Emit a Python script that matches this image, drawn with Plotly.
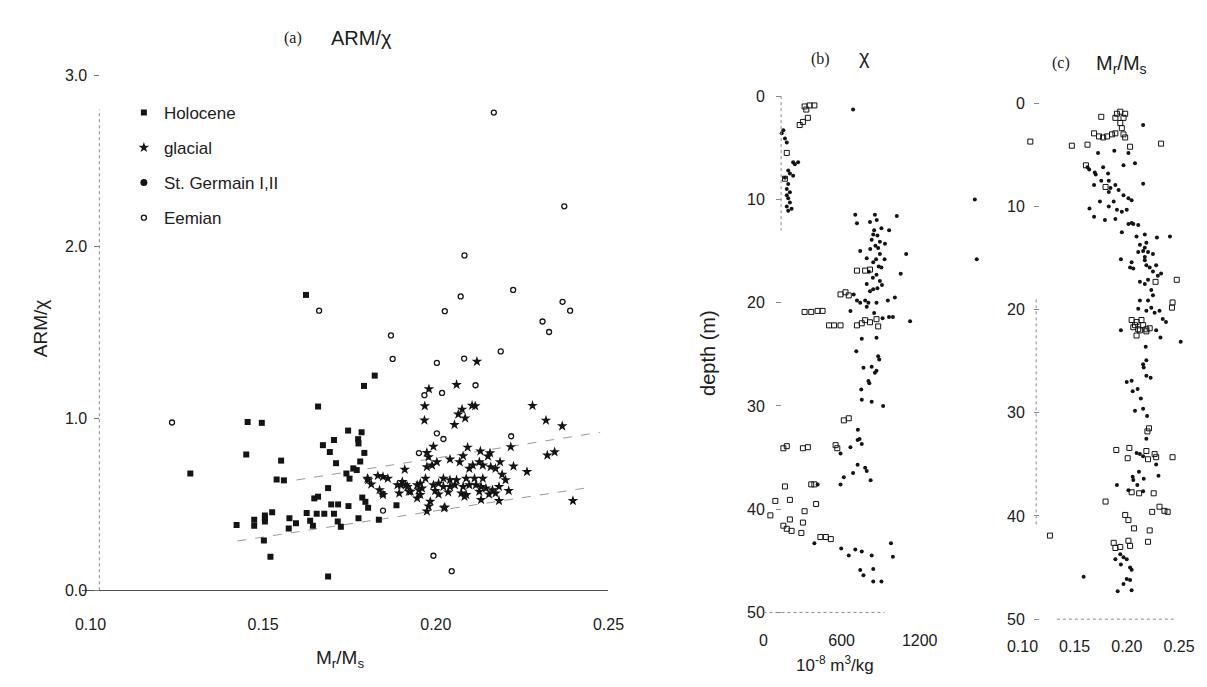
import plotly.graph_objects as go

W, H = 1207, 687

# ---------------- data: panel (a)  (Mr/Ms, ARM/chi) ----------------
holocene = [(0.1792,1.19),(0.1659,1.07),(0.1455,0.98),(0.1496,0.975),(0.1451,0.79),(0.1552,0.755),
            (0.1289,0.68),(0.1539,0.645),(0.1560,0.64),(0.1746,0.93),(0.1785,0.92),(0.1775,0.88),
            (0.1776,0.855),(0.1705,0.875),(0.1673,0.845),(0.1693,0.805),(0.1793,0.80),(0.1781,0.75),
            (0.1711,0.74),(0.1761,0.71),(0.1771,0.70),(0.1741,0.68),(0.1750,0.65),(0.1688,0.595),
            (0.1648,0.535),(0.1659,0.545),(0.1697,0.50),(0.1717,0.50),(0.1747,0.49),(0.1787,0.54),
            (0.1796,0.515),(0.1526,0.455),(0.1505,0.435),(0.1505,0.42),(0.1505,0.40),(0.1474,0.41),
            (0.1474,0.375),(0.1423,0.38),(0.1576,0.42),(0.1574,0.36),(0.1595,0.39),(0.1626,0.45),
            (0.1655,0.445),(0.1677,0.445),(0.1705,0.445),(0.1636,0.405),(0.1644,0.375),(0.1716,0.40),
            (0.1725,0.37),(0.1776,0.42),(0.1502,0.29),(0.1521,0.195),(0.1688,0.08),(0.1624,1.72),
            (0.1823,1.25),(0.1846,0.56),(0.1886,0.495),(0.1835,0.41),(0.1804,0.48)]

glacial = [(0.2119,1.332),(0.1980,1.172),(0.2060,1.197),(0.1968,1.073),(0.1967,0.990),(0.2076,1.053),
           (0.2065,1.025),(0.2085,1.002),(0.2054,0.964),(0.2105,1.076),(0.2114,1.073),(0.2280,1.075),
           (0.2319,0.989),(0.2366,0.956),(0.1993,0.837),(0.1974,0.801),(0.1979,0.776),(0.2092,0.832),
           (0.2129,0.810),(0.2157,0.799),(0.2151,0.780),(0.2217,0.835),(0.2323,0.786),(0.2344,0.805),
           (0.2041,0.763),(0.2079,0.782),(0.2069,0.747),(0.2003,0.747),(0.1974,0.718),(0.1989,0.728),
           (0.2126,0.747),(0.2136,0.728),(0.2107,0.728),(0.2097,0.709),(0.2186,0.747),(0.2173,0.709),
           (0.2159,0.718),(0.2225,0.722),(0.2264,0.690),(0.1910,0.703),(0.1832,0.667),(0.1847,0.661),
           (0.1861,0.651),(0.1804,0.642),(0.1813,0.617),(0.2192,0.674),(0.2202,0.642),(0.1970,0.651),
           (0.2022,0.651),(0.2041,0.642),(0.2060,0.642),(0.2088,0.651),(0.2112,0.651),(0.2136,0.651),
           (0.1899,0.613),(0.1918,0.603),(0.1946,0.613),(0.1960,0.594),(0.1993,0.613),(0.2008,0.622),
           (0.2022,0.603),(0.2041,0.603),(0.2055,0.613),(0.2079,0.603),(0.2097,0.613),(0.2116,0.613),
           (0.2131,0.603),(0.2145,0.594),(0.2164,0.584),(0.1894,0.565),(0.1922,0.575),(0.1955,0.556),
           (0.1998,0.579),(0.2036,0.571),(0.2074,0.565),(0.2088,0.556),(0.2126,0.575),(0.2154,0.559),
           (0.2173,0.565),(0.2183,0.603),(0.2211,0.579),(0.1946,0.536),(0.2008,0.559),(0.2083,0.546),
           (0.2131,0.527),(0.2183,0.521),(0.1984,0.517),(0.1979,0.489),(0.1974,0.460),(0.2026,0.483),
           (0.1837,0.584),(0.1847,0.556),(0.1889,0.613),(0.1903,0.632),(0.1913,0.613),(0.1927,0.575),
           (0.1951,0.584),(0.1955,0.622),(0.2397,0.521),(0.2024,0.479),(0.1802,0.651)]

st_germain = []   # legend entry only: no points distinguishable in panel (a)

eemian = [(0.1662,1.628),(0.2168,2.782),(0.2372,2.236),(0.2083,1.950),(0.2224,1.749),(0.2072,1.711),
          (0.2367,1.680),(0.2389,1.628),(0.2026,1.625),(0.2309,1.565),(0.2328,1.504),(0.1870,1.484),
          (0.1236,0.977),(0.1875,1.347),(0.2003,1.324),(0.2082,1.349),(0.2188,1.391),(0.2115,1.194),
          (0.2018,1.149),(0.1967,1.136),(0.2003,0.914),(0.2022,0.881),(0.2218,0.897),(0.1951,0.799),
          (0.1847,0.464),(0.1993,0.201),(0.2046,0.111)]

upper_line = [(0.1596,0.642),(0.2476,0.920)]
lower_line = [(0.1425,0.287),(0.2429,0.594)]

a_xticks = [0.10, 0.15, 0.20, 0.25]
a_xlabels = ["0.10", "0.15", "0.20", "0.25"]
a_yticks = [0, 1, 2, 3]
a_ylabels = ["0.0", "1.0", "2.0", "3.0"]

# ---------------- data: panel (b)  (chi, depth) ----------------
chi_dots = [(688,1.3),(153,3.3),(140,3.6),(165,4.1),(179,4.5),(228,6.4),(266,6.4),(241,6.6),
            (190,7.2),(203,7.5),(165,7.9),(228,7.7),(190,8.5),(179,9.0),(203,9.3),(179,9.6),
            (190,9.9),(203,10.3),(179,10.7),(190,11.1),(216,10.9),
            (705,11.5),(718,12.3),(856,11.5),(906,12.8),(818,12.2),(843,13.4),(894,14.1),(831,13.9),
            (881,14.7),(793,15.7),(743,15.0),(894,15.3),(843,16.1),(906,16.6),(868,17.3),(894,17.9),
            (793,18.2),(818,18.9),(843,18.7),(693,19.2),(718,19.8),(743,20.0),(781,19.8),(806,20.0),
            (793,20.4),(868,20.0),(668,20.8),(1024,11.6),(1096,15.3),(1054,17.2),(1009,19.5),
            (1126,21.8),(994,21.4),(964,21.4),(933,14.3),(1623,10.0),(1638,15.8),
            (870,12.0),(850,13.0),(875,13.5),(860,14.5),(820,14.8),(865,15.8),(885,16.5),(840,17.6),
            (810,17.0),(875,18.6),(965,13.0),(930,15.8),(955,19.8),(910,18.3),(850,21.0),(915,21.5),
            (755,23.5),(868,23.4),(713,24.7),(881,25.2),(889,25.5),(768,26.3),(831,26.2),(856,26.8),
            (868,26.6),(806,27.6),(813,27.8),(751,28.4),(755,29.4),(831,29.6),(919,30.0),
            (725,32.3),(723,33.3),(738,33.2),(755,33.7),(668,34.0),(592,34.6),(723,35.7),(781,36.0),
            (793,36.3),(823,37.2),(688,36.5),(617,36.9),(592,37.6),(416,37.6),
            (391,43.3),(597,43.8),(655,44.5),(705,43.9),(755,44.1),(831,44.5),(743,45.9),(768,46.4),
            (843,45.8),(843,47.0),(906,47.0),(979,43.3),(994,44.6)]

chi_open = [(316,1.0),(354,0.9),(391,0.9),(329,1.3),(303,2.5),(341,2.1),(278,2.8),(179,5.5),(165,8.0),
            (718,16.9),(781,16.9),(818,16.8),(592,19.2),(630,19.0),(655,19.3),
            (316,20.9),(367,20.9),(416,20.8),(454,20.8),
            (504,22.2),(542,22.2),(592,22.2),(718,22.2),(755,22.0),(781,21.7),(818,21.9),(868,21.6),(881,22.3),
            (617,31.4),(655,31.2),(554,33.8),(567,34.1),(153,34.1),(179,33.9),(303,34.1),(341,34.0),
            (165,37.8),(367,37.6),(391,37.6),(91,39.2),(203,39.1),(53,40.6),(203,41.0),(316,40.2),
            (404,39.5),(153,41.6),(179,41.9),(216,42.1),(303,41.3),(291,42.3),(437,42.7),(479,42.7),
            (517,42.9)]

b_xticks = [0, 600, 1200]
depth_ticks = [0, 10, 20, 30, 40, 50]

# ---------------- data: panel (c)  (Mr/Ms, depth) ----------------
mr_dots = [(0.2156,2.1),(0.1724,4.8),(0.1880,4.6),(0.2015,4.8),(0.1968,6.0),(0.2078,5.8),
           (0.1623,6.2),(0.1639,6.4),(0.1693,6.7),(0.1702,6.9),(0.1820,6.8),(0.1773,6.2),
           (0.1755,7.5),(0.1827,7.5),(0.2156,7.8),(0.1686,7.9),(0.1843,8.2),(0.1890,7.9),
           (0.1827,8.6),(0.1921,8.4),(0.2015,9.2),(0.2046,9.4),(0.1968,8.9),(0.1742,9.5),
           (0.1874,9.5),(0.1827,10.0),(0.1905,10.3),(0.1952,10.5),(0.1999,10.3),(0.1642,10.2),
           (0.1686,11.0),(0.1790,11.3),(0.1890,11.2),(0.2015,11.7),(0.2062,11.7),(0.2109,11.8),
           (0.2046,11.6),(0.1952,12.5),(0.2093,12.9),(0.2172,12.7),(0.2288,13.0),(0.2413,12.9),
           (0.2125,13.7),(0.2172,14.0),(0.2187,13.5),(0.2156,14.3),(0.2203,14.4),(0.2109,14.4),
           (0.2172,14.9),(0.2250,14.6),(0.1943,15.1),(0.2046,15.4),(0.2031,15.9),(0.2062,16.0),
           (0.2172,15.2),(0.2187,15.7),(0.2219,15.9),(0.2281,15.7),(0.2250,16.3),(0.2297,16.7),
           (0.2328,16.5),(0.2125,17.3),(0.2172,17.5),(0.2203,17.1),(0.2234,18.1),(0.2250,18.6),
           (0.2203,19.1),(0.2125,19.1),(0.2109,19.9),(0.2187,20.1),(0.2234,19.8),(0.2266,20.3),
           (0.2313,20.1),(0.2344,20.9),(0.2375,21.2),(0.1943,22.0),(0.2281,22.0),(0.2322,22.7),
           (0.2516,23.1),(0.2181,23.6),(0.2187,24.9),(0.2156,25.3),(0.2162,25.6),(0.2187,26.4),
           (0.2228,26.6),(0.1999,27.0),(0.2046,26.9),(0.2056,27.9),(0.2103,27.7),(0.2134,28.6),
           (0.2156,29.6),(0.2078,29.8),(0.2194,30.3),(0.2187,32.5),(0.2093,33.9),(0.2125,34.0),
           (0.2156,34.2),(0.2281,35.0),(0.2116,35.7),(0.2056,36.2),(0.2062,36.5),(0.2162,36.4),
           (0.2303,36.1),(0.1905,37.0),(0.2100,37.0),(0.2015,37.5),(0.2156,37.6),
           (0.1937,43.7),(0.1968,44.0),(0.1890,44.2),(0.1999,44.2),(0.1943,44.7),(0.2031,45.0),
           (0.2046,45.2),(0.1586,45.9),(0.1999,46.1),(0.2031,46.2),(0.1968,46.6),(0.1912,47.3),
           (0.2046,47.2)]

mr_open = [(0.1755,1.3),(0.1905,1.0),(0.1937,0.8),(0.1984,1.0),(0.1890,1.4),(0.1968,1.4),(0.1937,1.9),
           (0.1952,2.4),(0.1968,3.0),(0.1984,3.3),(0.1686,2.9),(0.1733,3.2),(0.1773,3.3),(0.1811,3.2),
           (0.1858,3.0),(0.1890,2.9),(0.1623,4.0),(0.1473,4.1),(0.1075,3.7),(0.2328,3.9),(0.2031,4.2),
           (0.1608,6.0),(0.1796,8.1),(0.2478,17.1),(0.2275,17.3),(0.2438,19.3),(0.2432,19.8),
           (0.2046,21.0),(0.2093,21.2),(0.2140,21.0),(0.2156,21.5),(0.2078,21.5),(0.2109,21.9),
           (0.2187,21.9),(0.2062,21.7),(0.2093,22.5),(0.2125,22.0),(0.2187,22.1),(0.2219,21.8),
           (0.2212,31.5),(0.2197,31.8),(0.1899,33.6),(0.2024,33.4),(0.2008,34.4),(0.2187,33.7),
           (0.2203,34.5),(0.2266,34.0),(0.2281,34.3),(0.2438,34.3),(0.2046,37.7),(0.2118,37.8),
           (0.2257,37.8),(0.1796,38.6),(0.2313,39.1),(0.2360,39.5),(0.2391,39.6),(0.2243,39.6),
           (0.1984,39.9),(0.2015,40.4),(0.2069,41.2),(0.2219,41.4),(0.1263,41.9),(0.1874,42.6),
           (0.1890,43.1),(0.1937,43.0),(0.2015,42.4),(0.2031,42.9),(0.2203,42.5)]

c_xticks = [0.10, 0.15, 0.20, 0.25]
c_xlabels = ["0.10", "0.15", "0.20", "0.25"]


def xs(pairs):
    return [p[0] for p in pairs] if pairs else [None]


def ys(pairs):
    return [p[1] for p in pairs] if pairs else [None]


def fx(px):
    return px / W


def fy(py):
    return 1 - py / H


INK = "#141414"
SANS = "Liberation Sans, Arial, sans-serif"
SERIF = "Liberation Serif, Times New Roman, serif"

fig = go.Figure()

# panel (a)
for line in (upper_line, lower_line):
    fig.add_trace(go.Scatter(x=xs(line), y=ys(line), mode="lines", showlegend=False,
                             line=dict(color="#9a9a9a", width=1, dash="dash"),
                             xaxis="x", yaxis="y", hoverinfo="skip"))

fig.add_trace(go.Scatter(x=xs(holocene), y=ys(holocene), mode="markers", name="Holocene",
                         legendgroup="h", marker=dict(symbol="square", size=6, color=INK),
                         xaxis="x", yaxis="y"))
fig.add_trace(go.Scatter(x=xs(glacial), y=ys(glacial), mode="markers", name="glacial",
                         legendgroup="g", marker=dict(symbol="star", size=8, color=INK),
                         xaxis="x", yaxis="y"))
fig.add_trace(go.Scatter(x=xs(st_germain), y=ys(st_germain), mode="markers", name="St. Germain I,II",
                         legendgroup="s", showlegend=True,
                         marker=dict(symbol="circle", size=7, color=INK),
                         xaxis="x", yaxis="y"))
fig.add_trace(go.Scatter(x=xs(eemian), y=ys(eemian), mode="markers", name="Eemian",
                         legendgroup="e",
                         marker=dict(symbol="circle-open", size=5, color=INK, line=dict(width=1.3)),
                         xaxis="x", yaxis="y"))

# panel (b)
fig.add_trace(go.Scatter(x=xs(chi_dots), y=ys(chi_dots), mode="markers", showlegend=False,
                         marker=dict(symbol="circle", size=4, color=INK), xaxis="x2", yaxis="y2"))
fig.add_trace(go.Scatter(x=xs(chi_open), y=ys(chi_open), mode="markers", showlegend=False,
                         marker=dict(symbol="square-open", size=5, color=INK, line=dict(width=1)),
                         xaxis="x2", yaxis="y2"))

# panel (c)
fig.add_trace(go.Scatter(x=xs(mr_dots), y=ys(mr_dots), mode="markers", showlegend=False,
                         marker=dict(symbol="circle", size=4, color=INK), xaxis="x3", yaxis="y3"))
fig.add_trace(go.Scatter(x=xs(mr_open), y=ys(mr_open), mode="markers", showlegend=False,
                         marker=dict(symbol="square-open", size=5, color=INK, line=dict(width=1)),
                         xaxis="x3", yaxis="y3"))

tickfont = dict(family=SANS, size=16, color="#202020")
ydom = [fy(625), fy(60)]

fig.update_layout(
    width=W, height=H, autosize=False,
    margin=dict(l=0, r=0, t=0, b=0),
    paper_bgcolor="white", plot_bgcolor="white",
    font=dict(family=SANS, color="#202020"),
    showlegend=True,
    legend=dict(x=fx(111), y=fy(88), xanchor="left", yanchor="top",
                font=dict(family=SANS, size=17, color="#202020"),
                tracegroupgap=10, bgcolor="rgba(0,0,0,0)", itemsizing="trace"),
    xaxis=dict(domain=[fx(68.2), fx(605)], range=[0.0975, 0.25], anchor="y",
               tickvals=a_xticks, ticktext=a_xlabels, tickfont=tickfont,
               showgrid=False, zeroline=False, showline=True, linecolor="#505050", linewidth=1,
               ticks="", ticklabelstandoff=20),
    yaxis=dict(domain=[fy(590), fy(59.3)], range=[0, 3.05], anchor="free", position=fx(86),
               tickvals=a_yticks, ticktext=a_ylabels, tickfont=tickfont,
               showgrid=False, zeroline=False, showline=False,
               ticks="outside", ticklen=5, tickcolor="#777", ticklabelstandoff=4),
    xaxis2=dict(domain=[fx(748), fx(990)], range=[-113, 1710], anchor="free", position=fy(612.8),
                tickvals=b_xticks, tickfont=tickfont, showgrid=False, zeroline=False, showline=False,
                ticks="", ticklabelstandoff=16),
    yaxis2=dict(domain=ydom, range=[51.2, -2.8], anchor="free", position=fx(781),
                tickvals=depth_ticks, tickfont=tickfont, showgrid=False, zeroline=False,
                showline=False, ticks="outside", ticklen=5, tickcolor="#888", ticklabelstandoff=8),
    xaxis3=dict(domain=[fx(1016.4), fx(1205.8)], range=[0.09, 0.268], anchor="free",
                position=fy(619.2), tickvals=c_xticks, ticktext=c_xlabels, tickfont=tickfont,
                showgrid=False, zeroline=False, showline=False, ticks="", ticklabelstandoff=16),
    yaxis3=dict(domain=ydom, range=[50.55, -3.51], anchor="free", position=fx(1044),
                tickvals=depth_ticks, tickfont=tickfont, showgrid=False, zeroline=False,
                showline=False, ticks="outside", ticklen=5, tickcolor="#888", ticklabelstandoff=6),
)

# faint dotted axis lines (as in the scan)
dot = dict(color="#8a8a8a", width=1, dash="dot")
fig.add_shape(type="line", xref="paper", yref="y", x0=fx(86), x1=fx(86), y0=0, y1=2.8, line=dot)
fig.add_shape(type="line", xref="paper", yref="y2", x0=fx(781), x1=fx(781), y0=0, y1=13, line=dot)
fig.add_shape(type="line", xref="x2", yref="y2", x0=0, x1=930, y0=50, y1=50, line=dot)
fig.add_shape(type="line", xref="paper", yref="y3", x0=fx(1041), x1=fx(1041), y0=19, y1=41, line=dot)
fig.add_shape(type="line", xref="x3", yref="y3", x0=0.133, x1=0.245, y0=50, y1=50, line=dot)


def ann(text, px, py, size, family=SANS, angle=0):
    fig.add_annotation(text=text, x=fx(px), y=fy(py), xref="paper", yref="paper",
                       showarrow=False, xanchor="center", yanchor="middle", textangle=angle,
                       font=dict(family=family, size=size, color="#202020"))


ann("(a)", 283, 30, 16, SERIF)
ann("ARM/χ", 353, 30, 20)
ann("(b)", 821, 52, 16, SERIF)
ann("χ", 866, 50, 20)
ann("(c)", 1066, 56, 16, SERIF)
ann("M<sub>r</sub>/M<sub>s</sub>", 1128, 57, 20)
ann("ARM/χ", 26, 325, 19, angle=-90)
ann("M<sub>r</sub>/M<sub>s</sub>", 331, 660, 19)
ann("depth (m)", 707, 350, 20, angle=-90)
ann("10<sup>-8</sup> m<sup>3</sup>/kg", 836, 665, 17)

fig.write_html("out.html")
